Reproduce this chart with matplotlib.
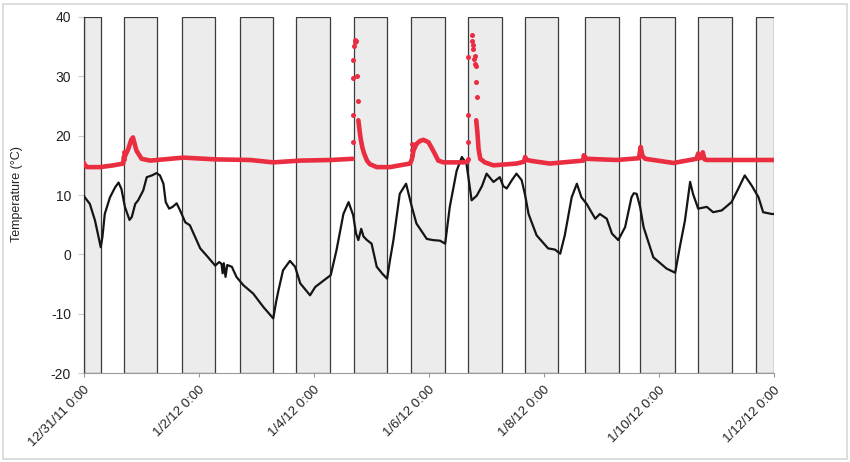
import numpy as np
import matplotlib
matplotlib.use("Agg")
import matplotlib.pyplot as plt
from matplotlib.patches import Rectangle

plt.rcParams['font.family'] = ['Liberation Sans', 'DejaVu Sans']

# ---- data (x in days since 12/31/11 0:00) ----
night_start = [0.0, 0.70, 1.71, 2.72, 3.70, 4.70, 5.70, 6.69, 7.68, 8.73, 9.68, 10.69, 11.70]
night_end = [0.30, 1.28, 2.29, 3.30, 4.28, 5.28, 6.29, 7.27, 8.26, 9.31, 10.28, 11.28, 12.0]

outside_day = [0.00, 0.11, 0.20, 0.27, 0.30, 0.33, 0.37, 0.46, 0.55, 0.61, 0.66, 0.72, 0.80, 0.84,
               0.90, 0.95, 1.04, 1.10, 1.19, 1.27, 1.33, 1.39, 1.43, 1.49, 1.55, 1.62, 1.68, 1.77,
               1.85, 2.03, 2.14, 2.29, 2.36, 2.40, 2.42, 2.44, 2.47, 2.50, 2.58, 2.66, 2.78, 2.95,
               3.13, 3.30, 3.35, 3.39, 3.47, 3.59, 3.68, 3.77, 3.94, 4.03, 4.30, 4.40, 4.52, 4.61,
               4.69, 4.74, 4.78, 4.83, 4.87, 4.93, 5.01, 5.10, 5.20, 5.28, 5.33, 5.39, 5.50, 5.61,
               5.71, 5.79, 5.97, 6.08, 6.20, 6.29, 6.37, 6.49, 6.58, 6.66, 6.75, 6.84, 6.93, 7.01,
               7.13, 7.24, 7.30, 7.36, 7.45, 7.53, 7.62, 7.68, 7.74, 7.88, 8.08, 8.20, 8.29, 8.37,
               8.49, 8.58, 8.66, 8.75, 8.90, 8.98, 9.10, 9.19, 9.30, 9.42, 9.53, 9.57, 9.62, 9.68,
               9.74, 9.91, 10.14, 10.29, 10.37, 10.46, 10.55, 10.60, 10.69, 10.84, 10.95, 11.10,
               11.27, 11.39, 11.50, 11.62, 11.74, 11.82, 11.97, 12.00]
outside_temp = [9.9, 8.5, 5.7, 2.5, 1.2, 3.0, 6.8, 9.6, 11.3, 12.1, 11.0, 8.0, 5.8, 6.3,
                8.5, 9.1, 10.8, 13.0, 13.3, 13.7, 13.3, 11.9, 8.8, 7.7, 8.0, 8.6, 7.4, 5.4,
                4.9, 1.0, -0.2, -1.9, -1.3, -1.6, -3.2, -1.5, -3.8, -1.8, -2.1, -3.8, -5.2, -6.6,
                -8.9, -10.8, -8.0, -6.1, -2.7, -1.1, -2.1, -4.9, -6.9, -5.5, -3.5, 0.7, 6.8, 8.8,
                6.6, 3.5, 2.4, 4.3, 3.0, 2.4, 1.8, -2.1, -3.3, -4.1, -1.0, 2.4, 10.2, 11.9,
                8.0, 5.2, 2.6, 2.4, 2.3, 1.8, 8.0, 14.1, 16.4, 15.3, 9.1, 9.9, 11.5, 13.6,
                12.2, 13.0, 11.5, 11.1, 12.5, 13.6, 12.5, 10.0, 6.8, 3.2, 1.0, 0.8, 0.1, 3.2,
                9.6, 11.9, 9.6, 8.5, 6.0, 6.8, 6.0, 3.5, 2.4, 4.6, 9.6, 10.3, 10.2, 8.0,
                4.6, -0.5, -2.4, -3.1, 1.2, 5.7, 12.2, 10.2, 7.7, 8.0, 7.1, 7.4,
                8.8, 11.1, 13.3, 11.6, 9.6, 7.1, 6.8, 6.8]

inside_day = [0.00, 0.03, 0.06, 0.29, 0.52, 0.69, 0.70, 0.72, 0.78, 0.83, 0.86, 0.89, 0.92, 1.01,
              1.16, 1.74, 2.30, 2.90, 3.30, 3.77, 4.30, 4.68, np.nan,
              4.78, 4.80, 4.82, 4.85, 4.88, 4.93, 4.98, 5.10, 5.33, 5.50, 5.68, 5.71, 5.74, 5.79,
              5.85, 5.91, 6.00, 6.08, 6.17, 6.26, 6.60, 6.68, np.nan,
              6.83, 6.85, 6.87, 6.90, 6.98, 7.13, 7.53, 7.66, 7.68, 7.71, 7.82, 8.11, 8.69, 8.70,
              8.75, 9.27, 9.66, 9.69, 9.72, 9.77, 10.26, 10.66, 10.69, 10.72, 10.76, 10.77, 10.80,
              10.84, 11.50, 12.00]
inside_temp = [15.5, 15.0, 14.7, 14.7, 15.0, 15.3, 16.4, 16.5, 17.8, 19.3, 19.7, 18.6, 17.5, 16.1,
               15.8, 16.3, 16.0, 15.9, 15.5, 15.8, 15.9, 16.1, np.nan,
               22.6, 21.0, 19.5, 18.0, 17.0, 15.8, 15.2, 14.7, 14.7, 15.0, 15.3, 16.0, 17.5, 18.6,
               19.1, 19.3, 18.9, 17.5, 15.8, 15.5, 15.5, 15.6, np.nan,
               22.6, 20.6, 17.8, 16.1, 15.5, 15.0, 15.3, 15.6, 16.4, 15.9, 15.7, 15.3, 15.8, 16.7,
               16.1, 15.9, 16.2, 18.1, 16.6, 16.1, 15.4, 16.1, 17.0, 16.2, 16.4, 17.2, 16.0,
               15.9, 15.9, 15.9]

inside_dots_day = [0.70, 0.70, 0.71, 4.69, 4.69, 4.69, 4.695, 4.70, 4.715, 4.73, 4.735, 4.76, 4.78,
                   5.71, 5.71, 5.72, 6.69, 6.69, 6.69, 6.69, 6.75, 6.76, 6.77, 6.78, 6.79, 6.80,
                   6.81, 6.82, 6.83, 6.84]
inside_dots_temp = [16.0, 16.8, 17.2, 18.9, 23.5, 29.7, 32.7, 35.1, 35.8, 36.1, 35.9, 30.0, 25.8,
                    16.8, 17.6, 18.6, 16.1, 18.9, 23.4, 33.2, 36.9, 36.0, 35.2, 34.6, 33.0, 32.0,
                    33.5, 31.8, 29.0, 26.5]

tick_days = [0, 2, 4, 6, 8, 10, 12]
tick_labels = ["12/31/11 0:00", "1/2/12 0:00", "1/4/12 0:00", "1/6/12 0:00",
               "1/8/12 0:00", "1/10/12 0:00", "1/12/12 0:00"]
y_ticks = [-20, -10, 0, 10, 20, 30, 40]

# ---- figure ----
fig = plt.figure(figsize=(8.5, 4.62), dpi=100)
fig.patches.append(Rectangle((3 / 850, 3 / 462), 844 / 850, 455 / 462, transform=fig.transFigure,
                             fill=False, edgecolor="#d4d8d8", linewidth=1.2))
ax = fig.add_axes([83.5 / 850, 1 - 373 / 462, 690 / 850, 356 / 462])

for s, e in zip(night_start, night_end):
    ax.axvspan(s, e, facecolor="#ececec", edgecolor="#3a3a3a", linewidth=0.9, zorder=1)

red = "#ea2d40"
ax.plot(outside_day, outside_temp, color="#151515", linewidth=1.6, zorder=3)
ax.plot(inside_day, inside_temp, color=red, linewidth=3.3, solid_capstyle="round",
        solid_joinstyle="round", zorder=4)
ax.plot(inside_dots_day, inside_dots_temp, linestyle="none", marker="o", markersize=3.6,
        color=red, markeredgewidth=0, zorder=4)

ax.set_xlim(0, 12)
ax.set_ylim(-20, 40)
ax.set_xticks(tick_days)
ax.set_xticklabels(tick_labels, rotation=45, ha="right", rotation_mode="anchor",
                   fontsize=9.5, color="#222222")
ax.set_yticks(y_ticks)
ax.set_yticklabels([str(v) for v in y_ticks], fontsize=10, color="#222222")
ax.tick_params(axis="x", length=3, width=0.8, color="#999999", pad=5)
ax.tick_params(axis="y", length=4, width=0.8, color="#cccccc", pad=5)

for side in ["top", "right"]:
    ax.spines[side].set_visible(False)
ax.spines["bottom"].set_color("#9a9a9a")
ax.spines["left"].set_color("#3a3a3a")
ax.spines["left"].set_linewidth(0.9)
ax.patch.set_alpha(0)

fig.text(17 / 850, 1 - 194 / 462, "Temperature (°C)", rotation=90, fontsize=9,
         color="#222222", ha="center", va="center")

fig.savefig("out.png", dpi=100)
